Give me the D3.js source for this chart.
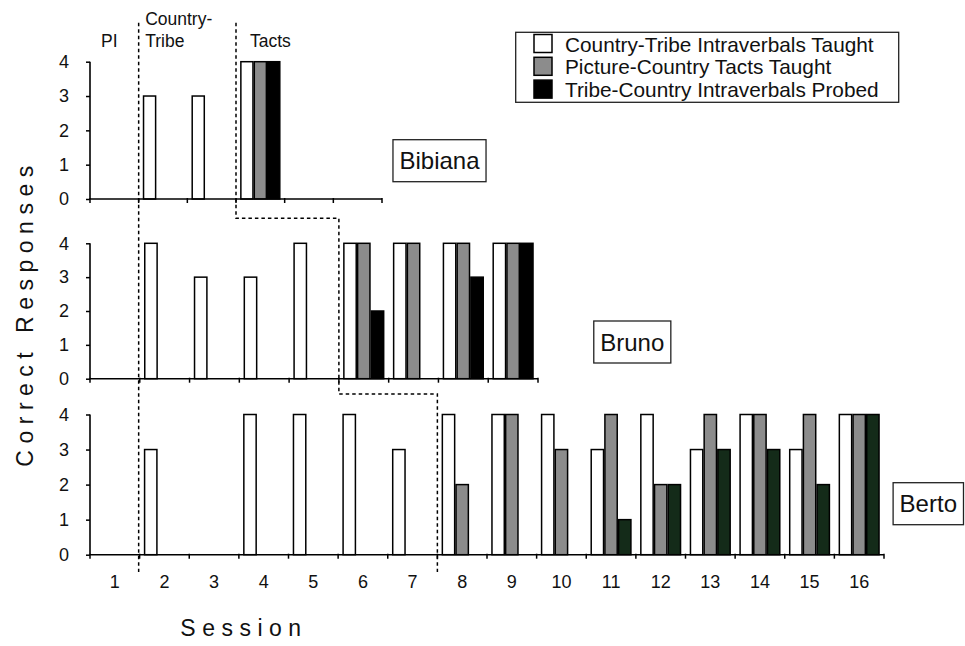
<!DOCTYPE html>
<html>
<head>
<meta charset="utf-8">
<script src="https://cdn.jsdelivr.net/npm/d3@7"></script>
<style>
  body { margin: 0; background: #fff; }
  text { font-family: "Liberation Sans", Arial, Helvetica, sans-serif; fill: #111; }
</style>
</head>
<body>
<svg id="chart" width="965" height="646"></svg>
<script>
// ---- data ----
const seriesNames = [
  "Country-Tribe Intraverbals Taught",
  "Picture-Country Tacts Taught",
  "Tribe-Country Intraverbals Probed"
];
const yTickValues = [0, 1, 2, 3, 4];
const phaseLabels = ["PI", "Country-\nTribe", "Tacts"];

const bibianaSessions = [1, 2, 3, 4, 5, 6];
const bibianaCountryTribe = [null, 3, 3, 4, null, null];
const bibianaPictureCountry = [null, null, null, 4, null, null];
const bibianaTribeCountry = [null, null, null, 4, null, null];

const brunoSessions = [1, 2, 3, 4, 5, 6, 7, 8, 9];
const brunoCountryTribe = [null, 4, 3, 3, 4, 4, 4, 4, 4];
const brunoPictureCountry = [null, null, null, null, null, 4, 4, 4, 4];
const brunoTribeCountry = [null, null, null, null, null, 2, null, 3, 4];

const bertoSessions = [1, 2, 3, 4, 5, 6, 7, 8, 9, 10, 11, 12, 13, 14, 15, 16];
const bertoCountryTribe = [null, 3, null, 4, 4, 4, 3, 4, 4, 4, 3, 4, 3, 4, 3, 4];
const bertoPictureCountry = [null, null, null, null, null, null, null, 2, 4, 3, 4, 2, 4, 4, 4, 4];
const bertoTribeCountry = [null, null, null, null, null, null, null, null, null, null, 1, 2, 3, 3, 2, 4];

// session where each participant enters the teaching and tact phases
const participants = ["Bibiana", "Bruno", "Berto"];
const teachingStart = [2, 2, 2];
const tactStart = [4, 6, 8];

// ---- layout ----
const svg = d3.select("#chart");
const font = '"Liberation Sans", Arial, Helvetica, sans-serif';
const fills = ["#ffffff", "#8c8c8c", "#000000"];
const bertoProbeFill = "#142b19";

const panels = [
  { name: participants[0], sessions: bibianaSessions,
    values: [bibianaCountryTribe, bibianaPictureCountry, bibianaTribeCountry],
    x: [90, 382], y: [199, 61.7], label: [439.5, 160.7], probeFill: fills[2] },
  { name: participants[1], sessions: brunoSessions,
    values: [brunoCountryTribe, brunoPictureCountry, brunoTribeCountry],
    x: [90, 538], y: [378.7, 243.3], label: [632.3, 342], probeFill: fills[2] },
  { name: participants[2], sessions: bertoSessions,
    values: [bertoCountryTribe, bertoPictureCountry, bertoTribeCountry],
    x: [90, 884], y: [554.7, 414.5], label: [928.3, 503.7], probeFill: bertoProbeFill }
];

panels.forEach(p => {
  p.xs = d3.scaleBand().domain(p.sessions).range(p.x).paddingInner(0.2).paddingOuter(0.1);
  p.ys = d3.scaleLinear().domain([0, 4]).range(p.y);
  p.inner = d3.scaleBand().domain(d3.range(seriesNames.length)).range([0, p.xs.bandwidth()]).paddingInner(0.1);
  // left edge of a session's slot (category boundary)
  p.edge = s => p.xs(s) - p.xs.step() * p.xs.paddingOuter();
});

panels.forEach((p, pi) => {
  const g = svg.append("g");

  // bars
  p.values.forEach((vals, si) => {
    const data = p.sessions.map((s, i) => ({ s, v: vals[i] })).filter(d => d.v != null);
    g.selectAll(null).data(data).join("rect")
      .attr("x", d => p.xs(d.s) + p.inner(si))
      .attr("y", d => p.ys(d.v))
      .attr("width", p.inner.bandwidth())
      .attr("height", d => p.ys(0) - p.ys(d.v))
      .attr("fill", si === 2 ? p.probeFill : fills[si])
      .attr("stroke", "#000")
      .attr("stroke-width", 1.5);
  });

  // y axis
  const yAxis = d3.axisLeft(p.ys).tickValues(yTickValues).tickSize(4).tickPadding(17).tickFormat(d3.format("d"));
  const ya = g.append("g").attr("transform", `translate(${p.x[0]},0)`).call(yAxis);
  ya.select(".domain").attr("stroke", "#000").attr("stroke-width", 1.6).attr("d", `M0,${p.ys(0)}V${p.ys(4)}`);
  ya.selectAll(".tick line").attr("stroke", "#000").attr("stroke-width", 1.5);
  ya.selectAll(".tick text").attr("font-family", font).attr("font-size", 18).attr("fill", "#111");

  // x axis baseline with ticks on category boundaries
  g.append("line")
    .attr("x1", p.x[0]).attr("x2", p.x[1])
    .attr("y1", p.ys(0)).attr("y2", p.ys(0))
    .attr("stroke", "#000").attr("stroke-width", 1.6);
  const bounds = p.sessions.map(s => p.edge(s)).concat([p.x[1]]);
  g.selectAll(null).data(bounds).join("line")
    .attr("x1", d => d).attr("x2", d => d)
    .attr("y1", p.ys(0) - 1).attr("y2", p.ys(0) + 4)
    .attr("stroke", "#000").attr("stroke-width", 1.5);

  // session labels on the bottom panel
  if (pi === panels.length - 1) {
    g.selectAll(null).data(p.sessions).join("text")
      .attr("x", d => p.xs(d) + p.xs.bandwidth() / 2)
      .attr("y", 588)
      .attr("text-anchor", "middle")
      .attr("font-size", 18)
      .text(d => d);
  }

  // participant name box
  const box = g.append("rect");
  const t = g.append("text")
    .attr("x", p.label[0]).attr("y", p.label[1] + 8.5)
    .attr("text-anchor", "middle")
    .attr("font-size", 24)
    .text(p.name);
  const w = t.node().getComputedTextLength() + 13;
  box.attr("x", p.label[0] - w / 2).attr("y", p.label[1] - 21)
    .attr("width", w).attr("height", 42)
    .attr("fill", "#fff").attr("stroke", "#222").attr("stroke-width", 1.3);
});

// ---- phase-change lines ----
function dashed(pathD) {
  svg.append("path").attr("d", pathD).attr("fill", "none")
    .attr("stroke", "#000").attr("stroke-width", 1.5).attr("stroke-dasharray", "3.5,3");
}
const pTop = panels[0], pMid = panels[1], pBot = panels[2];
const lineTop = 22.7, lineBottom = 572;
// baseline -> teaching (same session for everyone)
const xTeach = pTop.edge(teachingStart[0]);
dashed(`M${xTeach},${lineTop}V${lineBottom}`);
// teaching -> tacts, stepping down across the panels
const xT0 = pTop.edge(tactStart[0]), xT1 = pMid.edge(tactStart[1]), xT2 = pBot.edge(tactStart[2]);
const step01 = 218.3, step12 = 394;
dashed(`M${xT0},${lineTop}V${step01}H${xT1}V${step12}H${xT2}V${lineBottom}`);

// phase labels
const pl = svg.append("g").attr("font-size", 17.5);
pl.append("text").attr("x", (pTop.x[0] + xTeach) / 2 - 5).attr("y", 46.5).attr("text-anchor", "middle").text(phaseLabels[0]);
const ct = phaseLabels[1].split("\n");
pl.append("text").attr("x", xTeach + 6.5).attr("y", 25).text(ct[0]);
pl.append("text").attr("x", xTeach + 6.5).attr("y", 46.5).text(ct[1]);
pl.append("text").attr("x", xT0 + 14).attr("y", 46.5).text(phaseLabels[2]);

// ---- legend ----
const lg = svg.append("g");
lg.append("rect").attr("x", 515.7).attr("y", 32.3).attr("width", 383).attr("height", 70)
  .attr("fill", "#fff").attr("stroke", "#222").attr("stroke-width", 1.3);
seriesNames.forEach((name, i) => {
  const yy = 34.5 + i * 22.8;
  lg.append("rect").attr("x", 534).attr("y", yy).attr("width", 18).attr("height", 18)
    .attr("fill", fills[i]).attr("stroke", "#000").attr("stroke-width", 1.5);
  lg.append("text").attr("x", 565).attr("y", yy + 17).attr("font-size", 20.8).text(name);
});

// ---- axis titles ----
svg.append("text")
  .attr("transform", "translate(33,313) rotate(-90)")
  .attr("text-anchor", "middle")
  .attr("font-size", 23)
  .attr("letter-spacing", 6.5)
  .text("Correct Responses");
svg.append("text")
  .attr("x", 244).attr("y", 635.5)
  .attr("text-anchor", "middle")
  .attr("font-size", 23)
  .attr("letter-spacing", 6.5)
  .text("Session");
</script>
</body>
</html>
